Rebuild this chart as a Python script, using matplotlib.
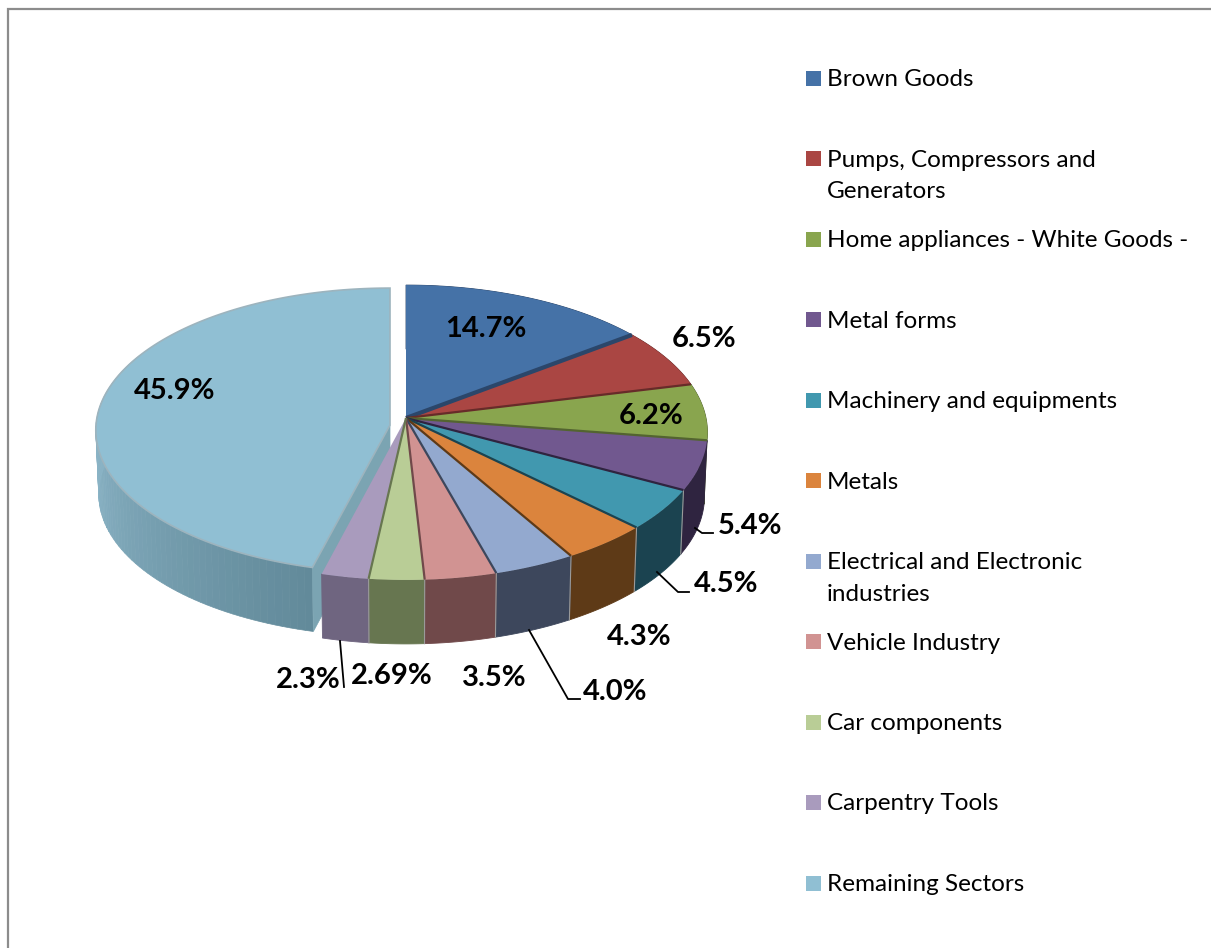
import matplotlib
matplotlib.use('Agg')
import matplotlib.pyplot as plt
from matplotlib.colors import to_rgb
from matplotlib.patches import Polygon, Rectangle
import numpy as np

plt.rcParams['font.family'] = ['Lato', 'DejaVu Sans']

categories = ['Brown Goods', 'Pumps, Compressors and\nGenerators', 'Home appliances - White Goods -',
              'Metal forms', 'Machinery and equipments', 'Metals',
              'Electrical and Electronic\nindustries', 'Vehicle Industry', 'Car components',
              'Carpentry Tools', 'Remaining Sectors']
shares = [14.7, 6.5, 6.2, 5.4, 4.5, 4.3, 4.0, 3.5, 2.69, 2.3, 45.9]
share_labels = ['14.7%', '6.5%', '6.2%', '5.4%', '4.5%', '4.3%', '4.0%', '3.5%', '2.69%', '2.3%', '45.9%']

top_colors = ['#4572A7', '#AA4643', '#89A54E', '#71588F', '#4198AF', '#DB843D',
              '#93A9CF', '#D19392', '#B9CD96', '#A99BBD', '#90BFD3']
wall_colors = ['#2B466A', '#672B29', '#536430', '#2F2440', '#1B4350', '#5E3A17',
               '#3D475C', '#70494A', '#677650', '#6F6580', '#628A9A']

# label centres and leader lines, in pixels
label_pos = [(486, 329), (704, 339), (651, 416), (750, 526), (726, 584), (639, 637),
             (615, 692), (494, 678), (392, 676), (308, 680), (175, 391)]
leaders = [[(695, 528), (702, 533), (713, 533)],
           [(657, 572), (678, 592), (689, 592)],
           [(529, 630), (568, 699), (580, 699)],
           [(340, 641), (344, 687)]]

DEPTH = 64


def project(theta, cx, cy, bx, ay, k):
    """Tilted disc: angle clockwise from 12 o'clock to pixel position, front edge larger."""
    px = np.sin(theta)
    py = np.cos(theta)
    s = 1 + k * py
    return cx + bx * px / s, cy - ay * py / s


def arc(t0, t1, geom, n=80):
    th = np.linspace(t0, t1, n)
    return project(th, *geom)


fig = plt.figure(figsize=(12.11, 9.48), dpi=100)
ax = fig.add_axes([0, 0, 1, 1])
ax.set_xlim(0, 1211)
ax.set_ylim(948, 0)
ax.axis('off')

# frame on the left and top only
ax.plot([7.5, 7.5, 1211], [948, 8.5, 8.5], color='#8c8c8c', lw=1.6, solid_joinstyle='miter')

angles = np.concatenate([[0], np.cumsum(shares)]) / np.sum(shares) * 2 * np.pi

main_geom = (406, 418, 300, 146, 0.0983)
big_geom = (390, 425, 294, 142, 0.0372)

# exploded slice: walls first, gradient along the rim
t0, t1 = angles[10], angles[11]
edges = np.linspace(t0, np.radians(300), 70)
dark = np.array(to_rgb('#628A9A'))
light = np.array(to_rgb('#8AB3C5'))
for a, b in zip(edges[:-1], edges[1:]):
    x, y = arc(a, b, big_geom, 4)
    x2 = big_geom[0] + (x - big_geom[0]) * 0.99
    mix = min((a - t0) / np.radians(72), 1)
    col = dark + (light - dark) * mix
    ax.add_patch(Polygon(np.r_[np.c_[x, y], np.c_[x2, y + DEPTH][::-1]], fc=col, ec=col, lw=0.5))

# cut face of the exploded slice
cx, cy = project(t0, *big_geom)
ax.add_patch(Polygon([(big_geom[0], big_geom[1]), (big_geom[0], big_geom[1] + DEPTH),
                      (cx + 1, cy + DEPTH), (cx, cy)], fc='#7BA4B2', ec='#7BA4B2', lw=0.5))
x, y = arc(t0, t1, big_geom, 160)
ax.add_patch(Polygon(np.r_[[(big_geom[0], big_geom[1])], np.c_[x, y]], fc=top_colors[10], ec='#9DB4BE', lw=1.2))

# remaining slices: rim walls, then the top faces
for i in range(10):
    x, y = arc(angles[i], angles[i + 1], main_geom)
    x2 = main_geom[0] + (x - main_geom[0]) * 0.99
    ax.add_patch(Polygon(np.r_[np.c_[x, y], np.c_[x2, y + DEPTH][::-1]],
                         fc=wall_colors[i], ec=wall_colors[i], lw=0.6))

# pale joints between the walls on the visible front of the rim
for i in range(3, 9):
    x, y = project(angles[i + 1], *main_geom)
    ax.plot([x, x * 0.99 + main_geom[0] * 0.01], [y, y + DEPTH], color='#9a9a9a', lw=0.8)

for i in range(10):
    x, y = arc(angles[i], angles[i + 1], main_geom)
    ax.add_patch(Polygon(np.r_[[(main_geom[0], main_geom[1])], np.c_[x, y]],
                         fc=top_colors[i], ec='none'))

# dark seams between neighbouring slices
for i in range(9):
    x, y = project(angles[i + 1], *main_geom)
    ax.plot([main_geom[0], x], [main_geom[1], y], color=wall_colors[i],
            lw=3 if i == 0 else 1.6, solid_capstyle='butt')

for pts in leaders:
    xs, ys = zip(*pts)
    ax.plot(xs, ys, color='black', lw=1.3)

for (x, y), s in zip(label_pos, share_labels):
    ax.text(x, y, s, ha='center', va='center', fontsize=21, fontweight='bold', color='black')

# legend column
for i, (name, col) in enumerate(zip(categories, top_colors)):
    yc = 78 + i * 80.5
    ax.add_patch(Rectangle((806, yc - 7.5), 15, 15, fc=col, ec='none'))
    ax.text(827, yc - 9, name, ha='left', va='top', fontsize=17.5, color='black', linespacing=1.62)

fig.savefig('out.png', dpi=100)
